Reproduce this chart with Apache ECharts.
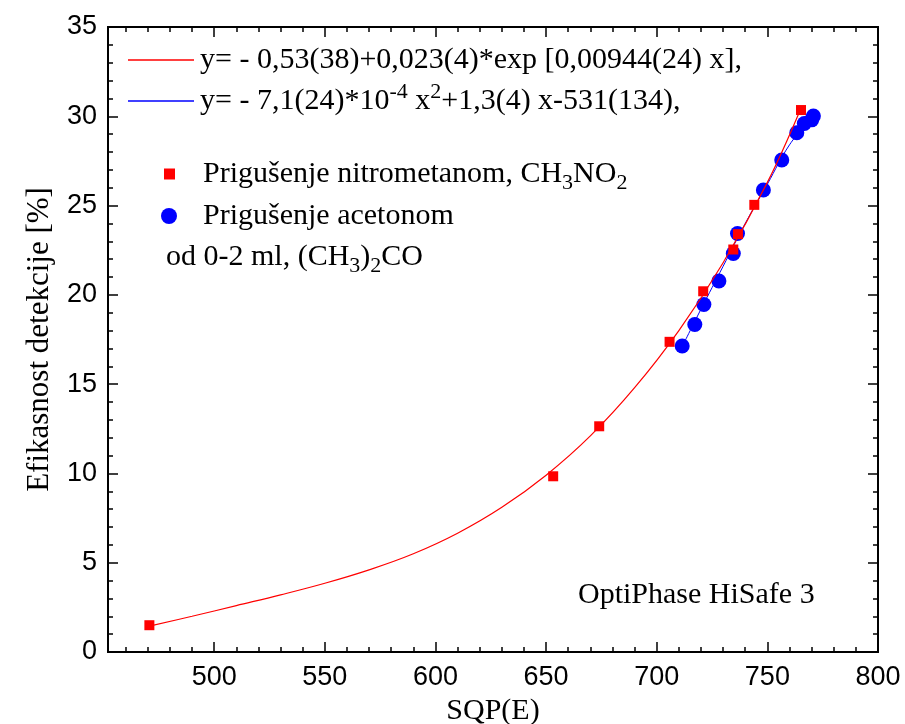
<!DOCTYPE html>
<html><head><meta charset="utf-8">
<script src="https://cdn.jsdelivr.net/npm/echarts@6/dist/echarts.min.js"></script>
<style>html,body{margin:0;padding:0;background:#fff}#c{width:905px;height:724px}</style>
</head><body><div id="c"></div>
<script>
// ---- data ----
const nitroX = [470.7, 653.2, 674.0, 705.8, 721.0, 734.6, 736.7, 744.1, 765.2];
const nitroY = [1.5, 9.84, 12.64, 17.37, 20.2, 22.54, 23.4, 25.04, 30.35];
const acetX = [711.5, 717.2, 721.3, 728.1, 734.6, 736.5, 748.2, 756.5, 763.3, 766.7, 770.0, 770.8];
const acetY = [17.14, 18.34, 19.46, 20.78, 22.32, 23.44, 25.87, 27.55, 29.08, 29.6, 29.8, 30.01];
const fitExpX = [470.7, 490, 510, 530, 550, 570, 590, 610, 630, 650, 670, 690, 710, 730, 750, 765];
const fitExpY = [1.45, 2.0, 2.6, 3.2, 3.85, 4.6, 5.5, 6.65, 8.1, 9.9, 12.1, 14.8, 18.0, 21.8, 26.3, 30.4];
const fitQuadX = [711.5, 720, 730, 740, 750, 760, 770.8];
const fitQuadY = [17.1, 19.2, 21.6, 24.0, 26.2, 28.4, 30.05];
const xRange = [452, 800];
const yRange = [0, 35];
const yStep = 5;
const xMajorStep = 50;
const xMinorStep = 10;

const legendText = {
  fitExp: '{t|y= - 0,53(38)+0,023(4)*exp [0,00944(24) x],}',
  fitQuad: '{t|y= - 7,1(24)*10}{sup|-4}{t| x}{sup|2}{t|+1,3(4) x-531(134),}',
  nitro: '{t|Prigušenje nitrometanom, CH}{sub|3}{t|NO}{sub|2}',
  acet: '{t|Prigušenje acetonom}'
};
const acetNote = '{t|od 0-2 ml, (CH}{sub|3}{t|)}{sub|2}{t|CO}';
const brandText = 'OptiPhase HiSafe 3';
const xName = 'SQP(E)';
const yName = 'Efikasnost detekcije [%]';

// ---- styling ----
const SERIF = '"Liberation Serif", "Times New Roman", serif';
const SANS = '"Liberation Sans", Arial, sans-serif';
const RED = '#ff0000', BLUE = '#0000ff';
const FS = 30;
const LH = 40;
const rich = {
  t: {fontFamily: SERIF, fontSize: FS, lineHeight: LH, color: '#000', verticalAlign: 'middle'},
  sup: {fontFamily: SERIF, fontSize: 22, lineHeight: 6, color: '#000', verticalAlign: 'top'},
  sub: {fontFamily: SERIF, fontSize: 22, lineHeight: 6, color: '#000', verticalAlign: 'bottom'}
};
const zip = (xs, ys) => xs.map((x, i) => [x, ys[i]]);

const axisLineStyle = {color: '#000', width: 2};
function xAxisCfg(pos, step, tickLen, labels) {
  return {
    type: 'value', position: pos, min: xRange[0], max: xRange[1],
    minInterval: step, maxInterval: step,
    axisLine: {show: true, onZero: false, lineStyle: axisLineStyle},
    axisTick: {show: true, inside: true, length: tickLen, lineStyle: {color: '#000', width: 1.5}},
    axisLabel: labels ? {show: true, color: '#000', fontFamily: SANS, fontSize: 27, margin: 12, showMinLabel: false} : {show: false},
    splitLine: {show: false}
  };
}
function yAxisCfg(pos, labels) {
  return {
    type: 'value', position: pos, min: yRange[0], max: yRange[1], interval: yStep,
    axisLine: {show: true, onZero: false, lineStyle: axisLineStyle},
    axisTick: {show: true, inside: true, length: 10, lineStyle: {color: '#000', width: 1.5}},
    minorTick: {show: true, splitNumber: 5, length: 5, lineStyle: {color: '#000', width: 1.5}},
    axisLabel: labels ? {show: true, color: '#000', fontFamily: SANS, fontSize: 27, margin: 11} : {show: false},
    splitLine: {show: false}, minorSplitLine: {show: false}
  };
}

const xA0 = xAxisCfg('bottom', xMajorStep, 10, true);
Object.assign(xA0, {name: xName, nameLocation: 'middle', nameGap: 44,
  nameTextStyle: {fontFamily: SERIF, fontSize: FS, color: '#000'}});
const yA0 = yAxisCfg('left', true);
Object.assign(yA0, {name: yName, nameLocation: 'middle', nameGap: 53,
  nameTextStyle: {fontFamily: SERIF, fontSize: 31, color: '#000'}});

const chart = echarts.init(document.getElementById('c'), null, {renderer: 'canvas'});
chart.setOption({
  animation: false,
  backgroundColor: '#fff',
  grid: {left: 108, right: 27, top: 27, bottom: 72, containLabel: false, outerBoundsMode: 'none'},
  xAxis: [
    xA0,
    xAxisCfg('bottom', xMinorStep, 5, false),
    xAxisCfg('top', xMajorStep, 10, false),
    xAxisCfg('top', xMinorStep, 5, false)
  ],
  yAxis: [yA0, yAxisCfg('right', false)],
  legend: [
    {data: ['fitExp', 'fitQuad'], orient: 'vertical', left: 128, top: 45, padding: 0, icon: 'rect',
     itemWidth: 66, itemHeight: 1.3, itemGap: 6, selectedMode: false,
     formatter: n => legendText[n], textStyle: {rich: rich, padding: [0, 0, 0, 1]}},
    {data: ['nitro'], orient: 'vertical', left: 164, top: 159, padding: 0, icon: 'rect',
     itemWidth: 11, itemHeight: 11, selectedMode: false,
     formatter: n => legendText[n], textStyle: {rich: rich, padding: [0, 0, 0, 23]}},
    {data: ['acet'], orient: 'vertical', left: 161, top: 201, padding: 0, icon: 'circle',
     itemWidth: 16, itemHeight: 16, selectedMode: false,
     formatter: n => legendText[n], textStyle: {rich: rich, padding: [0, 0, 0, 21]}}
  ],
  graphic: [
    {type: 'text', left: 166, top: 242, style: {text: acetNote, rich: rich}},
    {type: 'text', left: 578, top: 580, style: {text: brandText, font: FS + 'px ' + SERIF, fill: '#000'}}
  ],
  series: [
    {type: 'scatter', name: 'acet', data: zip(acetX, acetY), symbol: 'circle', symbolSize: 15,
     itemStyle: {color: BLUE, opacity: 1}, z: 2},
    {type: 'line', name: 'fitQuad', data: zip(fitQuadX, fitQuadY), smooth: 0.4, symbol: 'none',
     lineStyle: {color: BLUE, width: 1}, itemStyle: {color: BLUE}, z: 3},
    {type: 'line', name: 'fitExp', data: zip(fitExpX, fitExpY), smooth: 0.4, symbol: 'none',
     lineStyle: {color: RED, width: 1.2}, itemStyle: {color: RED}, z: 4},
    {type: 'scatter', name: 'nitro', data: zip(nitroX, nitroY), symbol: 'rect', symbolSize: 10,
     itemStyle: {color: RED, opacity: 1}, z: 5}
  ]
});
</script></body></html>
